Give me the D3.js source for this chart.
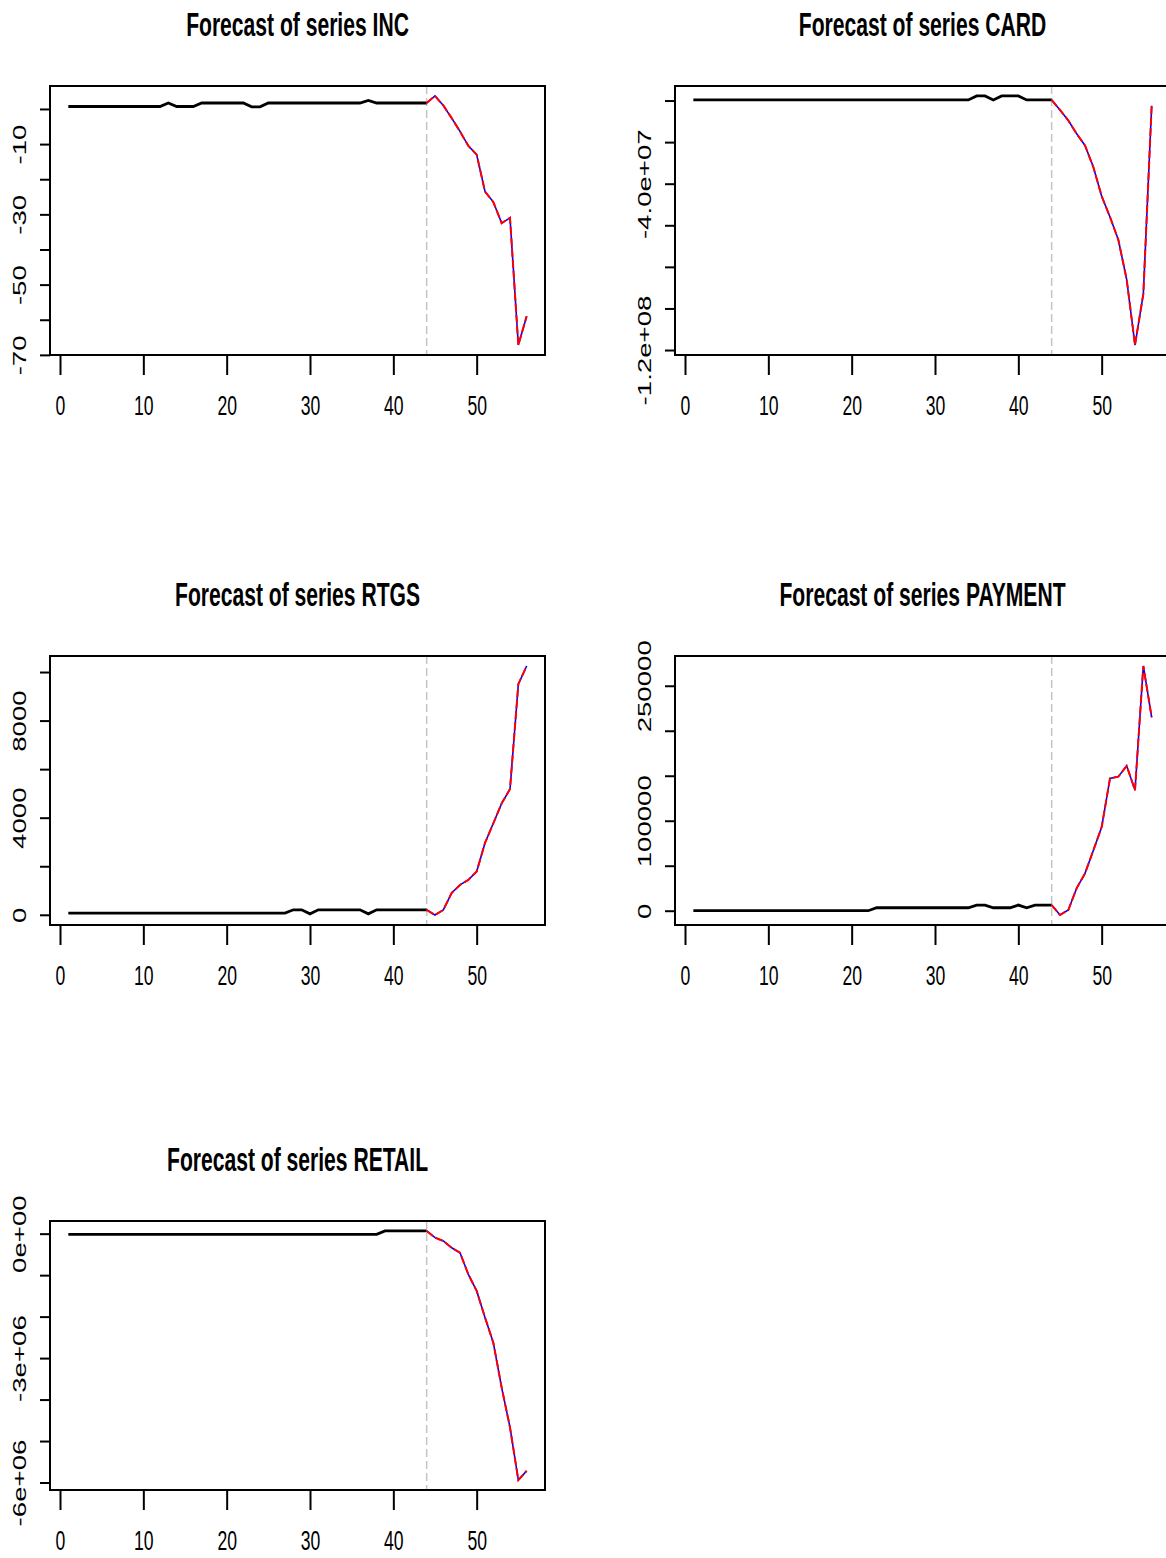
<!DOCTYPE html>
<html>
<head>
<meta charset="utf-8">
<script src="https://cdn.jsdelivr.net/npm/d3@7"></script>
<style>
body { margin: 0; background: #fff; }
text { font-family: "Liberation Sans", Arial, Helvetica, sans-serif; fill: #000; }
</style>
</head>
<body>
<div id="chart"></div>
<script>

var nObs = 44, nAhead = 12;

// observed values, t = 1..44
var incObs = [0.7,0.7,0.7,0.7,0.7,0.7,0.7,0.7,0.7,0.7,0.7,
              0.7,1.7,0.7,0.7,0.7,1.7,1.7,1.7,1.7,1.7,1.7,
              0.6,0.6,1.7,1.7,1.7,1.7,1.7,1.7,1.7,1.7,1.7,
              1.7,1.7,1.7,2.4,1.7,1.7,1.7,1.7,1.7,1.7,1.7];
var cardObs = [300000,300000,300000,300000,300000,300000,300000,300000,300000,300000,300000,
               300000,300000,300000,300000,300000,300000,300000,300000,300000,300000,300000,
               300000,300000,300000,300000,300000,300000,300000,300000,300000,300000,300000,
               300000,2200000,2200000,300000,2200000,2200000,2200000,300000,300000,300000,300000];
var rtgsObs = [70,70,70,70,70,70,70,70,70,70,70,
               70,70,70,70,70,70,70,70,70,70,70,
               70,70,70,70,70,205,205,40,205,205,205,
               205,205,205,40,205,205,205,205,205,205,205];
var paymentObs = [0,0,0,0,0,0,0,0,0,0,0,
                  0,0,0,0,0,0,0,0,0,0,0,
                  3300,3300,3300,3300,3300,3300,3300,3300,3300,3300,3300,
                  3300,6300,6300,3300,3300,3300,6300,3300,6300,6300,6300];
var retailObs = [-16000,-16000,-16000,-16000,-16000,-16000,-16000,-16000,-16000,-16000,-16000,
                 -16000,-16000,-16000,-16000,-16000,-16000,-16000,-16000,-16000,-16000,-16000,
                 -16000,-16000,-16000,-16000,-16000,-16000,-16000,-16000,-16000,-16000,-16000,
                 -16000,-16000,-16000,-16000,-16000,65000,65000,65000,65000,65000,65000];

// forecasts, t = 44..56 (first value = last observation)
var incFc = [1.7, 3.7, 1.0, -2.6, -6.4, -10.5, -13.0, -23.5, -26.5, -32.5, -31.0, -67.2, -59.0];
var cardFc = [300000, -4500000, -9600000, -16000000, -21600000, -32000000, -46000000,
              -56000000, -67000000, -86000000, -117600000, -93000000, -2500000];
var rtgsFc = [205, -10, 200, 900, 1230, 1440, 1780, 2960, 3770, 4590, 5180, 9500, 10250];
var paymentFc = [6300, -4800, 800, 25000, 41500, 67000, 93000, 147000, 149000, 161000, 134000, 272000, 215000];
var retailFc = [65000, -96000, -176000, -340000, -460000, -980000, -1380000, -2020000,
                -2630000, -3710000, -4670000, -5940000, -5720000];

// axis ticks and labels
var xTicks = [0, 10, 20, 30, 40, 50];
var xLabels = ["0", "10", "20", "30", "40", "50"];
var incTicks = [-70, -60, -50, -40, -30, -20, -10, 0];
var incLabels = ["-70", "", "-50", "", "-30", "", "-10", ""];
var cardTicks = [-120000000, -100000000, -80000000, -60000000, -40000000, -20000000, 0];
var cardLabels = ["-1.2e+08", "", "", "", "-4.0e+07", "", ""];
var rtgsTicks = [0, 2000, 4000, 6000, 8000, 10000];
var rtgsLabels = ["0", "", "4000", "", "8000", ""];
var paymentTicks = [0, 50000, 100000, 150000, 200000, 250000];
var paymentLabels = ["0", "", "100000", "", "", "250000"];
var retailTicks = [-6000000, -5000000, -4000000, -3000000, -2000000, -1000000, 0];
var retailLabels = ["-6e+06", "", "", "-3e+06", "", "", "0e+00"];

var panels = [
  {name: "INC", obs: incObs, fc: incFc, ticks: incTicks, labels: incLabels},
  {name: "CARD", obs: cardObs, fc: cardFc, ticks: cardTicks, labels: cardLabels},
  {name: "RTGS", obs: rtgsObs, fc: rtgsFc, ticks: rtgsTicks, labels: rtgsLabels},
  {name: "PAYMENT", obs: paymentObs, fc: paymentFc, ticks: paymentTicks, labels: paymentLabels},
  {name: "RETAIL", obs: retailObs, fc: retailFc, ticks: retailTicks, labels: retailLabels}
];

// the picture is stretched vertically, so text is too
var k = 1.57;
var boxW = 495, boxH = 269;
var colLeft = [50, 675], rowTop = [86, 656, 1221];

var svg = d3.select("#chart").append("svg")
    .attr("width", 1166)
    .attr("height", 1558);

panels.forEach(function (p, i) {
    var left = colLeft[i % 2], top = rowTop[Math.floor(i / 2)];
    var g = svg.append("g").attr("transform", "translate(" + left + "," + top + ")");

    var obs = p.obs.map(function (v, j) { return {t: j + 1, v: v}; });
    var fc = p.fc.map(function (v, j) { return {t: nObs + j, v: v}; });

    // R style 4% padding
    var ext = d3.extent(p.obs.concat(p.fc));
    var pad = (ext[1] - ext[0]) * 0.04;
    var y = d3.scaleLinear().domain([ext[0] - pad, ext[1] + pad]).range([boxH, 0]);
    var xp = (nObs + nAhead - 1) * 0.04;
    var x = d3.scaleLinear().domain([1 - xp, nObs + nAhead + xp]).range([0, boxW]);

    // x axis
    var gx = g.append("g")
        .attr("transform", "translate(0," + boxH + ")")
        .call(d3.axisBottom(x).tickValues(xTicks)
            .tickFormat(function (d, j) { return xLabels[j]; })
            .tickSize(20).tickSizeOuter(0))
        .attr("font-size", 17.6)
        .attr("font-family", null);
    gx.select(".domain").remove();
    gx.selectAll(".tick line").attr("stroke-width", 2);
    gx.selectAll(".tick text")
        .attr("y", null).attr("dy", null)
        .attr("transform", "translate(0,60) scale(1," + k + ")");

    // y axis
    var gy = g.append("g")
        .call(d3.axisLeft(y).tickValues(p.ticks)
            .tickFormat(function (d, j) { return p.labels[j]; })
            .tickSize(10).tickSizeOuter(0))
        .attr("font-size", 17.6)
        .attr("font-family", null);
    gy.select(".domain").remove();
    gy.selectAll(".tick line").attr("stroke-width", 2);
    gy.selectAll(".tick text")
        .attr("x", null).attr("dy", null)
        .attr("text-anchor", "middle")
        .attr("transform", "translate(-24,0) rotate(-90) scale(" + k + ",1)");

    // end of sample marker
    g.append("line")
        .attr("x1", x(nObs)).attr("x2", x(nObs))
        .attr("y1", 0).attr("y2", boxH)
        .style("stroke", "#c4c4c4")
        .style("stroke-width", 1.5)
        .style("stroke-dasharray", "8,4");

    var line = d3.line()
        .x(function (d) { return x(d.t); })
        .y(function (d) { return y(d.v); });

    g.append("path").datum(obs)
        .attr("d", line)
        .style("fill", "none")
        .style("stroke", "#000")
        .style("stroke-width", 2.8);

    g.append("path").datum(fc)
        .attr("d", line)
        .style("fill", "none")
        .style("stroke", "#0000ff")
        .style("stroke-width", 1.6);

    g.append("path").datum(fc)
        .attr("d", line)
        .style("fill", "none")
        .style("stroke", "#ff0000")
        .style("stroke-width", 2)
        .style("stroke-dasharray", "8,3");

    g.append("rect")
        .attr("width", boxW).attr("height", boxH)
        .style("fill", "none")
        .style("stroke", "#000")
        .style("stroke-width", 2);

    g.append("text")
        .attr("text-anchor", "middle")
        .attr("font-weight", "bold")
        .attr("font-size", 21.1)
        .attr("transform", "translate(" + (boxW / 2) + ",-50.3) scale(1," + k + ")")
        .text("Forecast of series " + p.name);
});

</script>
</body>
</html>
